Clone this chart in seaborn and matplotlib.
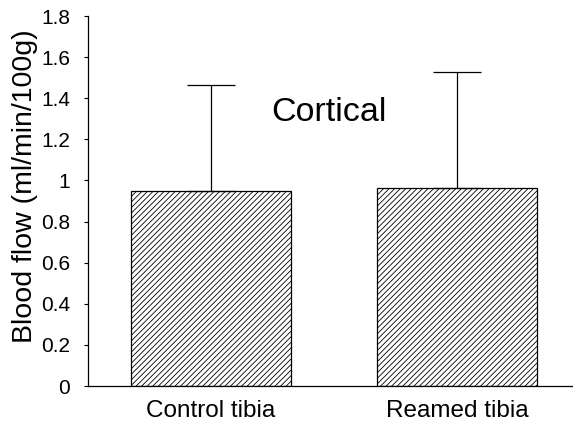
import matplotlib
matplotlib.use("Agg")
import matplotlib.pyplot as plt
import seaborn as sns
import pandas as pd

categories = ["Control tibia", "Reamed tibia"]
means = [0.948, 0.963]
sd_upper = [0.517, 0.567]
yticks = [0, 0.2, 0.4, 0.6, 0.8, 1, 1.2, 1.4, 1.6, 1.8]
ytick_labels = ["0", "0.2", "0.4", "0.6", "0.8", "1", "1.2", "1.4", "1.6", "1.8"]

sns.set_theme(style="white")
plt.rcParams['font.family'] = ['Liberation Sans', 'DejaVu Sans']
plt.rcParams['hatch.linewidth'] = 0.6
plt.rcParams['hatch.color'] = 'black'

fig = plt.figure(figsize=(5.73, 4.29), dpi=100)
ax = fig.add_axes([0.1536, 0.1002, 0.8464, 0.8625])

df = pd.DataFrame({"group": categories, "flow": means})
sns.barplot(data=df, x="group", y="flow", ax=ax, color="white",
            edgecolor="black", linewidth=0.9, width=0.65, errorbar=None)
for p in ax.patches:
    p.set_hatch("//////")
    p.set_facecolor("white")
    p.set_edgecolor("black")

ax.errorbar(range(len(categories)), means, yerr=[[0]*len(means), sd_upper],
            fmt="none", ecolor="black", elinewidth=0.9, capsize=17, capthick=0.9)

ax.set_xlim(-0.5, 1.47)
ax.set_ylim(0, 1.8)
ax.set_yticks(yticks)
ax.set_yticklabels(ytick_labels, fontsize=15)
ax.tick_params(axis="y", direction="out", length=3, width=0.8, left=True, pad=10, colors="black")
ax.tick_params(axis="x", length=0, pad=10)
for lab in ax.get_xticklabels():
    lab.set_color("black")
    lab.set_fontsize(17.5)
ax.set_xlabel("")
ax.set_ylabel("Blood flow (ml/min/100g)", fontsize=20.5, color="black")
ax.yaxis.set_label_coords(-0.103, 0.54)

sns.despine(ax=ax, top=True, right=True)
for s in ["left", "bottom"]:
    ax.spines[s].set_color("black")
    ax.spines[s].set_linewidth(0.9)

ax.text(0.48, 1.33, "Cortical", fontsize=24.5, ha="center", va="center", color="black")

fig.savefig("out.png", dpi=100)
